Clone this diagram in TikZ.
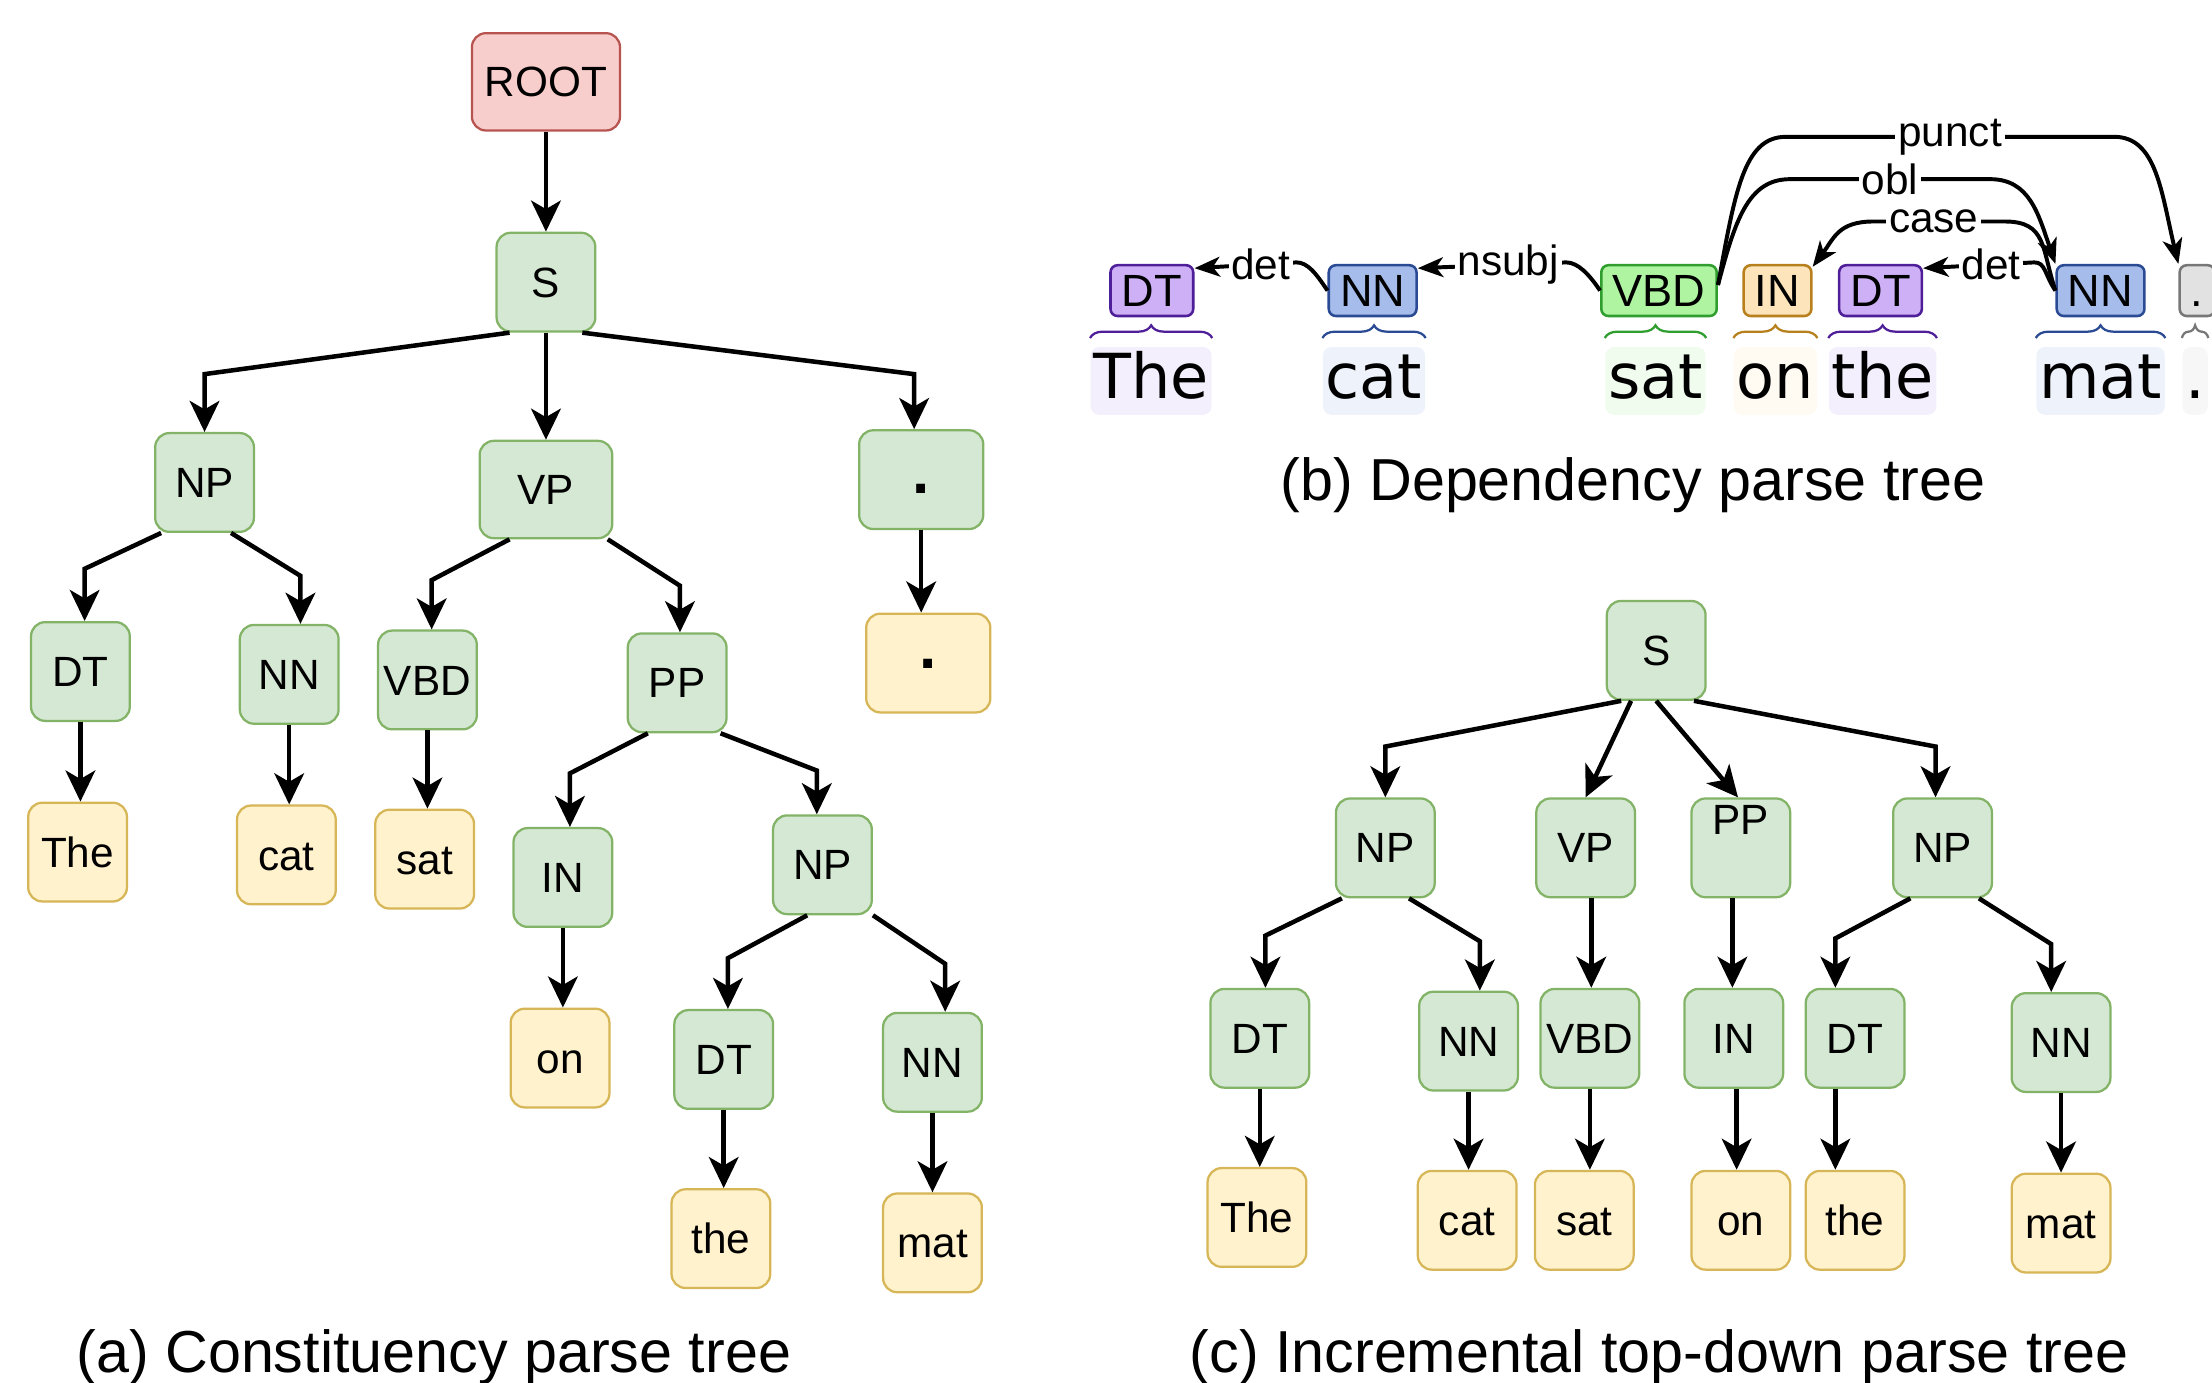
\documentclass[tikz,border=0pt]{standalone}
\usepackage{fontspec}
\setmainfont{Liberation Sans}
\newfontfamily\wordfont{DejaVu Sans}
\usetikzlibrary{arrows.meta,calc,decorations.pathreplacing}

\definecolor{consF}{HTML}{D5E8D4}
\definecolor{consB}{HTML}{82B366}
\definecolor{leafF}{HTML}{FFF2CC}
\definecolor{leafB}{HTML}{D6B656}
\definecolor{rootF}{HTML}{F8CECC}
\definecolor{rootB}{HTML}{B85450}
\definecolor{dtF}{HTML}{CDB0F5}
\definecolor{dtB}{HTML}{4F1F9A}
\definecolor{dtW}{HTML}{F4EFFC}
\definecolor{nnF}{HTML}{A6BDEC}
\definecolor{nnB}{HTML}{2A4A94}
\definecolor{nnW}{HTML}{EEF2FB}
\definecolor{vbF}{HTML}{AFF5A1}
\definecolor{vbB}{HTML}{2F9E2F}
\definecolor{vbW}{HTML}{F0FCEE}
\definecolor{inF}{HTML}{FDE4BB}
\definecolor{inB}{HTML}{B7801C}
\definecolor{inW}{HTML}{FFFAF2}
\definecolor{puF}{HTML}{E2E2E2}
\definecolor{puB}{HTML}{777777}
\definecolor{puW}{HTML}{F7F7F7}

\tikzset{
  box/.style={draw, rounded corners=5pt, minimum width=35pt, minimum height=35pt,
    inner sep=0pt, line width=0.8pt, text height=10.7pt, text depth=0pt,
    font=\fontsize{15}{18}\selectfont},
  cons/.style={box, draw=consB, fill=consF},
  leaf/.style={box, draw=leafB, fill=leafF},
  rootbox/.style={box, draw=rootB, fill=rootF, minimum width=52.5pt, minimum height=34.5pt},
  dotfont/.style={minimum width=44pt, font=\fontsize{22}{24}\bfseries},
  tedge/.style={line width=1.6pt, -{Stealth[length=11pt,width=10.5pt,inset=3pt]}},
  tag/.style={draw=#1B, fill=#1F, rounded corners=2.5pt, line width=0.9pt,
    inner xsep=4pt, inner ysep=3.25pt, text height=11.5pt, text depth=0pt,
    minimum height=18pt, font=\fontsize{16}{18}\selectfont},
  wbg/.style={fill=#1, rounded corners=3pt, inner xsep=1pt, inner ysep=0pt,
    minimum height=24pt, text height=16.5pt, text depth=4pt,
    font=\wordfont\fontsize{22}{24}\selectfont},
  brc/.style={draw=#1, line width=0.8pt, decorate, decoration={brace, amplitude=4.5pt}},
  dep/.style={line width=1.4pt, -{Stealth[length=9pt,width=7pt,inset=2.5pt]}},
  lbl/.style={fill=white, inner sep=1pt, font=\fontsize{15}{17}\selectfont},
  caption/.style={font=\fontsize{21}{25}\selectfont, anchor=base},
}

\begin{document}
\begin{tikzpicture}[x=0.5pt, y=-0.5pt]
\useasboundingbox (0,0) rectangle (1568,980);

% (a) constituency tree
\node[rootbox] (root) at (387,58) {ROOT};
\node[cons] (aS) at (387,200) {S};
\node[cons] (aNP) at (145,342) {NP};
\node[cons, minimum width=47pt, minimum height=34.5pt] (aVP) at (387,347) {VP};
\node[cons, dotfont, text height=9.8pt] (aDot) at (653,340) {.};
\node[cons] (aDT) at (57,476) {DT};
\node[cons] (aNN) at (205,478) {NN};
\node[cons] (aVBD) at (303,482) {VBD};
\node[cons] (aPP) at (480,484) {PP};
\node[leaf, dotfont, text height=3.8pt] (aDotw) at (658,470) {.};
\node[leaf] (aThe) at (55,604) {The};
\node[leaf] (aCat) at (203,606) {cat};
\node[leaf] (aSat) at (301,609) {sat};
\node[cons] (aIN) at (399,622) {IN};
\node[cons] (aNP2) at (583,613) {NP};
\node[leaf] (aOn) at (397,750) {on};
\node[cons] (aDT2) at (513,751) {DT};
\node[cons] (aNN2) at (661,753) {NN};
\node[leaf] (aThe2) at (511,878) {the};
\node[leaf] (aMat) at (661,881) {mat};

\draw[tedge] (root) -- (aS);
\draw[tedge] ([xshift=5pt]aS.south west) -- ($(aNP.north)+(0,-41)$) -- (aNP.north);
\draw[tedge] (aS) -- (aVP);
\draw[tedge] ([xshift=-5pt]aS.south east) -- ($(aDot.north)+(-5,-39)$) -- ($(aDot.north)+(-5,0)$);
\draw[tedge] ([xshift=2.5pt]aNP.south west) -- ($(aDT.north)+(3,-37)$) -- ($(aDT.north)+(3,0)$);
\draw[tedge] ([xshift=-8.5pt]aNP.south east) -- ($(aNN.north)+(8,-34)$) -- ($(aNN.north)+(8,0)$);
\draw[tedge] ([xshift=11pt]aVP.south west) -- ($(aVBD.north)+(3,-35)$) -- ($(aVBD.north)+(3,0)$);
\draw[tedge] ([xshift=-2pt]aVP.south east) -- ($(aPP.north)+(2,-33)$) -- ($(aPP.north)+(2,0)$);
\draw[tedge] ([xshift=7.5pt]aPP.south west) -- ($(aIN.north)+(5,-38)$) -- ($(aIN.north)+(5,0)$);
\draw[tedge] ([xshift=-2.5pt]aPP.south east) -- ($(aNP2.north)+(-4,-31)$) -- ($(aNP2.north)+(-4,0)$);
\draw[tedge] ([xshift=12.5pt]aNP2.south west) -- ($(aDT2.north)+(3,-36)$) -- ($(aDT2.north)+(3,0)$);
\draw[tedge] (aNP2.south east) -- ($(aNN2.north)+(9,-34)$) -- ($(aNN2.north)+(9,0)$);
\draw[tedge] (aDot.south) -- (aDot.south |- aDotw.north);
\draw[tedge] (aDT.south) -- (aDT.south |- aThe.north);
\draw[tedge] (aNN.south) -- (aNN.south |- aCat.north);
\draw[tedge] (aVBD.south) -- (aVBD.south |- aSat.north);
\draw[tedge] (aIN.south) -- (aIN.south |- aOn.north);
\draw[tedge] (aDT2.south) -- (aDT2.south |- aThe2.north);
\draw[tedge] (aNN2.south) -- (aNN2.south |- aMat.north);

% (b) dependency tree
\node[tag=dt] (bDT) at (816.5,206) {DT};
\node[tag=nn] (bNN) at (973,206) {NN};
\node[tag=vb] (bVBD) at (1176,206) {VBD};
\node[tag=in] (bIN) at (1260,206) {IN};
\node[tag=dt] (bDT2) at (1333,206) {DT};
\node[tag=nn] (bNN2) at (1489,206) {NN};
\node[tag=pu] (bDot) at (1557.5,206) {.};

\node[wbg=dtW] (bThe) at (816,270) {The};
\node[wbg=nnW] (bCat) at (974,270) {cat};
\node[wbg=vbW] (bSat) at (1173.5,270) {sat};
\node[wbg=inW] (bOn) at (1258.5,270) {on};
\node[wbg=dtW] (bThe2) at (1334.5,270) {the};
\node[wbg=nnW] (bMat) at (1489,270) {mat};
\node[wbg=puW] (bDotw) at (1556,270) {.};

\draw[brc=dtB] ([yshift=3pt]bThe.north west) -- ([yshift=3pt]bThe.north east);
\draw[brc=nnB] ([yshift=3pt]bCat.north west) -- ([yshift=3pt]bCat.north east);
\draw[brc=vbB] ([yshift=3pt]bSat.north west) -- ([yshift=3pt]bSat.north east);
\draw[brc=inB] ([yshift=3pt]bOn.north west) -- ([yshift=3pt]bOn.north east);
\draw[brc=dtB] ([yshift=3pt]bThe2.north west) -- ([yshift=3pt]bThe2.north east);
\draw[brc=nnB] ([yshift=3pt]bMat.north west) -- ([yshift=3pt]bMat.north east);
\draw[brc=puB] ([yshift=3pt]bDotw.north west) -- ([yshift=3pt]bDotw.north east);

\draw[dep] (bNN.west) .. controls +(-8,-12) and +(8,0) .. ++(-22,-20)
  -- node[lbl, pos=0.35] {det} ([yshift=-1.5pt]bDT.north east);
\draw[dep] (bVBD.west) .. controls +(-8,-12) and +(8,0) .. ++(-24,-20)
  -- node[lbl, pos=0.39] {nsubj} ([yshift=-1.5pt]bNN.north east);
\draw[dep] ([yshift=2pt]bVBD.east) .. controls +(12,-65) and +(-30,0) .. ++(48,-105)
  -- node[lbl] {punct} ++(233,0)
  .. controls +(30,0) and +(-12,-50) .. (bDot.north west);
\draw[dep] ([yshift=2pt]bVBD.east) .. controls +(12,-45) and +(-30,0) .. ++(51,-75)
  -- node[lbl] {obl} ++(142,0)
  .. controls +(28,0) and +(-12,-35) .. (bNN2.north west);
\draw[dep] (bNN2.west) .. controls +(-10,-30) and +(30,0) .. ++(-36,-49)
  -- node[lbl, pos=0.54] {case} ++(-93,0)
  .. controls +(-25,0) and +(15,-20) .. ([yshift=-1pt]bIN.north east);
\draw[dep] (bNN2.west) .. controls +(-8,-12) and +(8,0) .. ++(-15,-20)
  -- node[lbl, pos=0.39] {det} ([yshift=-1.5pt]bDT2.north east);

% (c) incremental top-down tree
\node[cons] (cS) at (1174,461) {S};
\node[cons] (cNP) at (982,601) {NP};
\node[cons] (cVP) at (1124,601) {VP};
\node[cons] (cPP) at (1234,601) {\raisebox{10pt}{PP}};
\node[cons] (cNP2) at (1377,601) {NP};
\node[cons] (cDT) at (893,736) {DT};
\node[cons] (cNN) at (1041,738) {NN};
\node[cons] (cVBD) at (1127,736) {VBD};
\node[cons] (cIN) at (1229,736) {IN};
\node[cons] (cDT2) at (1315,736) {DT};
\node[cons] (cNN2) at (1461,739) {NN};
\node[leaf] (cThe) at (891,863) {The};
\node[leaf] (cCat) at (1040,865) {cat};
\node[leaf] (cSat) at (1123,865) {sat};
\node[leaf] (cOn) at (1234,865) {on};
\node[leaf] (cThe2) at (1315,865) {the};
\node[leaf] (cMat) at (1461,867) {mat};

\draw[tedge] ([xshift=5.5pt]cS.south west) -- ($(cNP.north)+(0,-36)$) -- (cNP.north);
\draw[tedge] ([xshift=9pt]cS.south west) -- (cVP.north);
\draw[tedge] (cS.south) -- ($(cPP.north)+(-2,0)$);
\draw[tedge] ([xshift=-4.5pt]cS.south east) -- ($(cNP2.north)+(-5,-36)$) -- ($(cNP2.north)+(-5,0)$);
\draw[tedge] ([xshift=2.5pt]cNP.south west) -- ($(cDT.north)+(4,-37)$) -- ($(cDT.north)+(4,0)$);
\draw[tedge] ([xshift=-9.5pt]cNP.south east) -- ($(cNN.north)+(8,-35)$) -- ($(cNN.north)+(8,0)$);
\draw[tedge] ([xshift=2pt]cVP.south) -- ([xshift=2pt]cVP.south |- cVBD.north);
\draw[tedge] ([xshift=-3pt]cPP.south) -- ([xshift=-3pt]cPP.south |- cIN.north);
\draw[tedge] ([xshift=6.5pt]cNP2.south west) -- ($(cDT2.north)+(-14,-35)$) -- ($(cDT2.north)+(-14,0)$);
\draw[tedge] ([xshift=-5pt]cNP2.south east) -- ($(cNN2.north)+(-7,-34)$) -- ($(cNN2.north)+(-7,0)$);
\draw[tedge] (cDT.south) -- (cDT.south |- cThe.north);
\draw[tedge] (cNN.south) -- (cNN.south |- cCat.north);
\draw[tedge] (cVBD.south) -- (cVBD.south |- cSat.north);
\draw[tedge] ([xshift=1pt]cIN.south) -- ([xshift=1pt]cIN.south |- cOn.north);
\draw[tedge] ([xshift=-7pt]cDT2.south) -- ([xshift=-7pt]cDT2.south |- cThe2.north);
\draw[tedge] (cNN2.south) -- (cNN2.south |- cMat.north);

% captions
\node[caption] (capA) at (307.5,973) {(a) Constituency parse tree};
\node[caption] (capB) at (1157.5,355) {(b) Dependency parse tree};
\node[caption] (capC) at (1176,973) {(c) Incremental top-down parse tree};
\end{tikzpicture}
\end{document}
